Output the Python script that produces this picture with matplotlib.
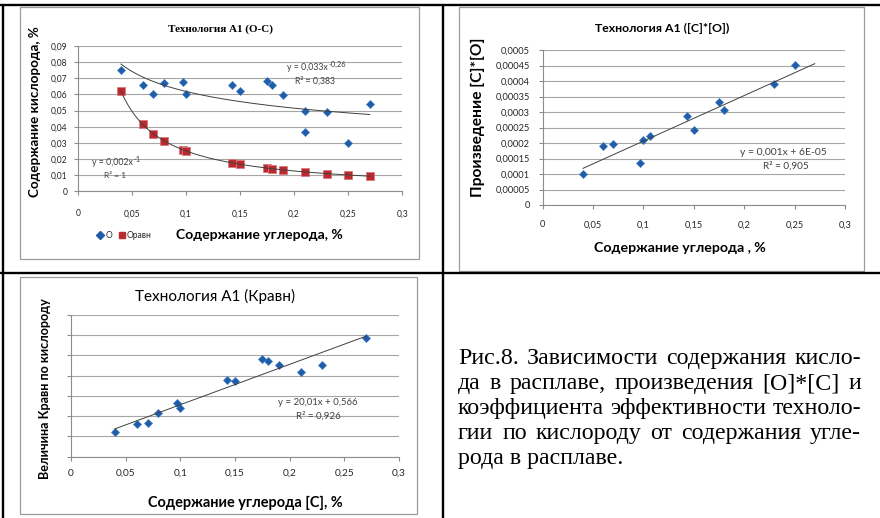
import matplotlib
matplotlib.use("Agg")
import matplotlib.pyplot as plt
import numpy as np
from matplotlib.lines import Line2D
from matplotlib.patches import Rectangle

# ---------------------------------------------------------------- data
x_ticks = [0, 0.05, 0.1, 0.15, 0.2, 0.25, 0.3]
x_tick_labels = ["0", "0,05", "0,1", "0,15", "0,2", "0,25", "0,3"]

# Chart 1: oxygen vs carbon
carbon_o = [0.04, 0.06, 0.07, 0.08, 0.097, 0.10, 0.143, 0.15, 0.175, 0.18,
            0.19, 0.21, 0.21, 0.23, 0.25, 0.27]
oxygen_o = [0.075, 0.066, 0.060, 0.067, 0.068, 0.060, 0.066, 0.062, 0.0685,
            0.066, 0.0595, 0.050, 0.037, 0.049, 0.030, 0.054]
carbon_eq = [0.04, 0.06, 0.07, 0.08, 0.097, 0.10, 0.143, 0.15, 0.175, 0.18,
             0.19, 0.21, 0.23, 0.25, 0.27]
oxygen_eq = [0.0623, 0.0415, 0.0357, 0.0312, 0.0258, 0.0248, 0.0175, 0.0169,
             0.0145, 0.0140, 0.0130, 0.0120, 0.0109, 0.0101, 0.0095]
o_y_ticks = [0, 0.01, 0.02, 0.03, 0.04, 0.05, 0.06, 0.07, 0.08, 0.09]
o_y_tick_labels = ["0", "0,01", "0,02", "0,03", "0,04", "0,05", "0,06",
                   "0,07", "0,08", "0,09"]

# Chart 2: product [C]*[O]
carbon_p = [0.04, 0.06, 0.07, 0.097, 0.10, 0.106, 0.143, 0.15, 0.175, 0.18,
            0.23, 0.25]
product_p = [0.000101, 0.000191, 0.000196, 0.000134, 0.000210, 0.000224,
             0.000287, 0.000241, 0.000333, 0.000305, 0.000390, 0.000452]
p_y_ticks = [0, 0.00005, 0.0001, 0.00015, 0.0002, 0.00025, 0.0003, 0.00035,
             0.0004, 0.00045, 0.0005]
p_y_tick_labels = ["0", "0,00005", "0,0001", "0,00015", "0,0002", "0,00025",
                   "0,0003", "0,00035", "0,0004", "0,00045", "0,0005"]
p_forecast_forward = 0.02

# Chart 3: K_eq vs carbon
carbon_k = [0.04, 0.06, 0.07, 0.08, 0.097, 0.10, 0.143, 0.15, 0.175, 0.18,
            0.19, 0.21, 0.23, 0.27]
k_eq = [1.20, 1.60, 1.68, 2.14, 2.65, 2.42, 3.77, 3.74, 4.81, 4.74, 4.53,
        4.18, 4.51, 5.85]
k_y_ticks = [0, 1, 2, 3, 4, 5, 6, 7]

caption_lines = [
    "Рис.8. Зависимости содержания кисло-",
    "да в расплаве, произведения [О]*[С]  и",
    "коэффициента эффективности техноло-",
    "гии по кислороду от содержания угле-",
    "рода в расплаве.",
]

# ---------------------------------------------------------------- style
W, H, DPI = 880, 518, 100
SANS = ["Lato", "Liberation Sans", "DejaVu Sans"]
SERIF = ["Liberation Serif", "DejaVu Serif"]
BLUE = "#1F5DAA"
RED = "#BC2A30"
GRID = "#A6A6A6"
AXIS = "#8C8C8C"
TXT = "#262626"
TREND = "#404040"

plt.rcParams["font.family"] = SANS

fig = plt.figure(figsize=(W / DPI, H / DPI), dpi=DPI)
fig.patch.set_facecolor("white")
renderer = fig.canvas.get_renderer()


def fx(x):
    return x / W


def fy(y):
    return 1 - y / H


def text_width(s, fs, family=SANS, weight="normal"):
    t = fig.text(0, 0, s, fontsize=fs, family=family, weight=weight)
    w = t.get_window_extent(renderer).width
    t.remove()
    return w


def size_for(s, width_px, family=SANS, weight="normal", base=10.0):
    return base * width_px / text_width(s, base, family, weight)


def label(cx, cy, s, width_px, family=SANS, weight="normal", rotation=0,
          color="black", ha="center", va="center"):
    fs = size_for(s, width_px, family, weight)
    return fig.text(fx(cx), fy(cy), s, fontsize=fs, family=family,
                    weight=weight, rotation=rotation, color=color,
                    ha=ha, va=va)


def equation(x0, cy, base, sup, fs, sup_scale=0.85):
    """Trendline equation with a superscript exponent."""
    fig.text(fx(x0), fy(cy), base, fontsize=fs, color=TREND, ha="left",
             va="center")
    w = text_width(base, fs)
    fig.text(fx(x0 + w + 0.5), fy(cy - 3.5), sup, fontsize=fs * sup_scale,
             color=TREND, ha="left", va="center")


def axes_px(x0, y0, x1, y1):
    return fig.add_axes([fx(x0), fy(y1), (x1 - x0) / W, (y1 - y0) / H])


def chart_box(x0, y0, x1, y1):
    fig.add_artist(Rectangle((fx(x0), fy(y1)), (x1 - x0) / W, (y1 - y0) / H,
                             transform=fig.transFigure, fill=False,
                             edgecolor="#9C9C9C", lw=0.9))


def style_axes(ax, yticks, ylabels, tick_fs, xpad, ypad):
    ax.set_facecolor("none")
    for s in ("top", "right"):
        ax.spines[s].set_visible(False)
    for s in ("left", "bottom"):
        ax.spines[s].set_color(AXIS)
        ax.spines[s].set_linewidth(0.8)
    ax.set_xticks(x_ticks)
    ax.set_xticklabels(x_tick_labels)
    ax.set_yticks(yticks)
    ax.set_yticklabels(ylabels)
    ax.tick_params(direction="out", length=3, width=0.8, color=AXIS,
                   labelsize=tick_fs, labelcolor=TXT)
    ax.tick_params(axis="x", pad=xpad)
    ax.tick_params(axis="y", pad=ypad)
    ax.grid(axis="y", color=GRID, lw=0.8)
    ax.set_axisbelow(True)
    for lab in ax.get_xticklabels() + ax.get_yticklabels():
        lab.set_family(SANS)


def power_trend(x, y, n=200):
    b, ln_a = np.polyfit(np.log(x), np.log(y), 1)
    xs = np.linspace(min(x), max(x), n)
    return xs, np.exp(ln_a) * xs ** b


def linear_trend(x, y, forward=0.0):
    k, c = np.polyfit(x, y, 1)
    xs = np.array([min(x), max(x) + forward])
    return xs, k * xs + c


def diamonds(ax, x, y):
    ax.plot(x, y, ls="none", marker="D", ms=4.5, color=BLUE,
            markeredgecolor="#3F79C0", markeredgewidth=0.5, zorder=3,
            clip_on=False)


# ---------------------------------------------------------------- chart 1
chart_box(20, 7.3, 418.7, 259)
ax1 = axes_px(77.7, 46, 402.3, 191.3)
ax1.set_xlim(0, 0.3)
ax1.set_ylim(0, 0.09)
style_axes(ax1, o_y_ticks, o_y_tick_labels, size_for("0,05", 16.7),
           xpad=10, ypad=4.5)
diamonds(ax1, carbon_o, oxygen_o)
ax1.plot(carbon_eq, oxygen_eq, ls="none", marker="s", ms=5.4, color=RED,
         markeredgecolor="#D77A7E", markeredgewidth=0.6, zorder=3)
xs, ys = power_trend(carbon_o, oxygen_o)
ax1.plot(xs, ys, color=TREND, lw=0.7, zorder=4)
xs, ys = power_trend(carbon_eq, oxygen_eq)
ax1.plot(xs, ys, color=TREND, lw=0.7, zorder=4)

label(220, 29, "Технология А1 (О-С)", 106, family=SERIF, weight="bold")
label(35, 112, "Содержание кислорода, %", 170, weight="bold", rotation=90)
label(259.5, 235, "Содержание углерода, %", 167, weight="bold")

# trend equations
fs_eq = size_for("R² = 0,383", 40)
equation(287, 68, "y = 0,033x", "-0,26", fs_eq)
label(315, 81, "R² = 0,383", 40, color=TREND)
equation(92, 163, "y = 0,002x", "-1", fs_eq)
label(115, 175, "R² = 1", 22, color=TREND)

# legend
fs_lg = size_for("Оравн", 25)
fig.add_artist(Line2D([fx(100)], [fy(235)], marker="D", ms=4.2, color=BLUE,
                      ls="none", transform=fig.transFigure))
fig.text(fx(105.5), fy(235), "О", fontsize=fs_lg, color=TXT, ha="left",
         va="center")
fig.add_artist(Line2D([fx(122)], [fy(235)], marker="s", ms=5.0, color=RED,
                      ls="none", transform=fig.transFigure))
fig.text(fx(127), fy(235), "Оравн", fontsize=fs_lg, color=TXT, ha="left",
         va="center")

# ---------------------------------------------------------------- chart 2
chart_box(459.3, 7.3, 864.3, 270.7)
ax2 = axes_px(542.7, 50, 845, 205)
ax2.set_xlim(0, 0.3)
ax2.set_ylim(0, 0.0005)
style_axes(ax2, p_y_ticks, p_y_tick_labels, size_for("0,05", 18.3),
           xpad=8, ypad=6)
diamonds(ax2, carbon_p, product_p)
xs, ys = linear_trend(carbon_p, product_p, forward=p_forecast_forward)
ax2.plot(xs, ys, color=TREND, lw=0.7, zorder=4)

label(662, 28, "Технология А1 ([С]*[О])", 134, weight="bold")
label(478, 117.5, "Произведение [С]*[О]", 159, weight="bold", rotation=90)
label(679.5, 248, "Содержание углерода , %", 171, weight="bold")
label(783.5, 152.7, "y = 0,001x + 6E-05", 87, color=TREND)
label(786, 165.7, "R² = 0,905", 46, color=TREND)

# ---------------------------------------------------------------- chart 3
chart_box(20, 276.7, 417.3, 514.3)
ax3 = axes_px(71, 315, 399, 456.7)
ax3.set_xlim(0, 0.3)
ax3.set_ylim(0, 7)
style_axes(ax3, k_y_ticks, [""] * len(k_y_ticks), size_for("0,05", 20),
           xpad=5.5, ypad=4)
diamonds(ax3, carbon_k, k_eq)
xs, ys = linear_trend(carbon_k, k_eq)
ax3.plot(xs, ys, color=TREND, lw=0.7, zorder=4)

label(215, 296, "Технология А1 (Кравн)", 160)
label(45, 389, "Величина Кравн по кислороду", 182, weight="bold",
      rotation=90)
label(245.5, 503, "Содержание углерода [С], %", 195, weight="bold")
label(318, 402.7, "y = 20,01x + 0,566", 80, color=TREND)
label(318.5, 416, "R² = 0,926", 45, color=TREND)

# ---------------------------------------------------------------- caption
cap_left, cap_right = 458, 861
cap_base = [364.3, 389.3, 414.3, 439.3, 464.3]
fs_cap = size_for(caption_lines[-1], 166, family=SERIF)
for i, line in enumerate(caption_lines):
    words = line.split()
    y = fy(cap_base[i])
    if i == len(caption_lines) - 1:
        fig.text(fx(cap_left), y, line, fontsize=fs_cap, family=SERIF,
                 ha="left", va="baseline", color="black")
        continue
    widths = [text_width(w, fs_cap, family=SERIF) for w in words]
    gap = (cap_right - cap_left - sum(widths)) / (len(words) - 1)
    xpos = cap_left
    for w, wd in zip(words, widths):
        fig.text(fx(xpos), y, w, fontsize=fs_cap, family=SERIF, ha="left",
                 va="baseline", color="black")
        xpos += wd + gap

# ---------------------------------------------------------------- table rules
RULE = dict(color="black", lw=1.7, transform=fig.transFigure,
            solid_capstyle="butt")
fig.add_artist(Line2D([0, 1], [fy(4.5), fy(4.5)], **RULE))
fig.add_artist(Line2D([0, 1], [fy(273.3), fy(273.3)], **RULE))
fig.add_artist(Line2D([fx(2.8), fx(2.8)], [fy(4.5), 0], **RULE))
fig.add_artist(Line2D([fx(442.8), fx(442.8)], [fy(4.5), 0], **RULE))

fig.savefig("out.png", dpi=DPI, facecolor="white")
